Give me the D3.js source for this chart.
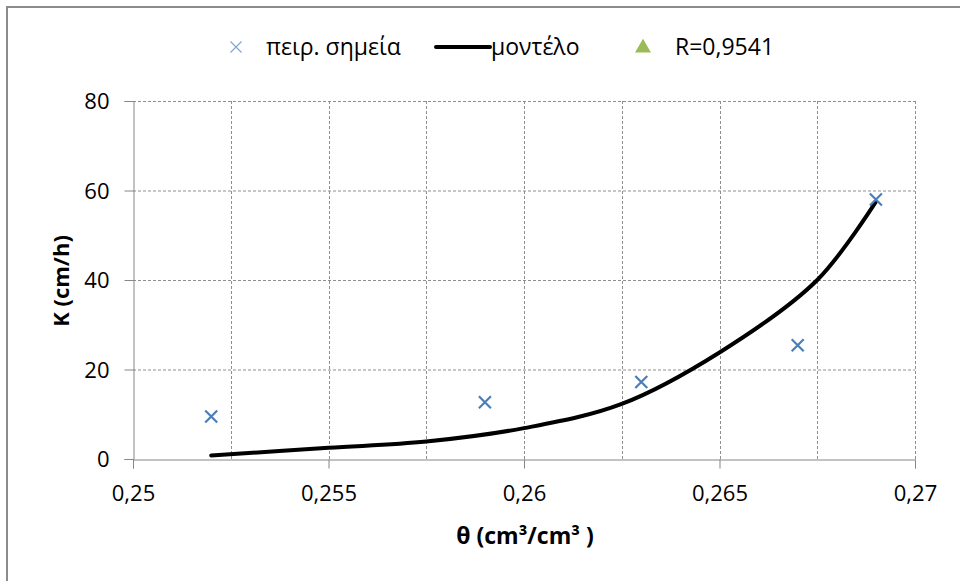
<!DOCTYPE html>
<html>
<head>
<meta charset="utf-8">
<script src="https://cdn.jsdelivr.net/npm/d3@7"></script>
<style>
  html, body { margin: 0; padding: 0; background: #fff; }
  svg { display: block; }
  text { font-family: "Open Sans", "Noto Sans", sans-serif; fill: #000; }
</style>
</head>
<body>
<script>
// ---- data ----
const thetaObs = [0.252, 0.259, 0.263, 0.267, 0.269];
const kObs = [9.5, 12.7, 17.2, 25.4, 58.0];
const thetaModel = [0.252, 0.255, 0.2575, 0.26, 0.2625, 0.265, 0.2675, 0.269];
const kModel = [0.8, 2.5, 3.9, 6.9, 12.3, 23.8, 40.0, 57.5];
const xTicks = [0.25, 0.255, 0.26, 0.265, 0.27];
const xGrid = [0.2525, 0.255, 0.2575, 0.26, 0.2625, 0.265, 0.2675, 0.27];
const yTicks = [0, 20, 40, 60, 80];
const legendLabels = ["πειρ. σημεία", "μοντέλο", "R=0,9541"];
const xTitle = "θ (cm³/cm³ )";
const yTitle = "K (cm/h)";

const W = 960, H = 581;
const plot = {left: 133, right: 915, top: 101, bottom: 459};

const svg = d3.select("body").append("svg").attr("width", W).attr("height", H);

// outer border (only top/left visible)
svg.append("rect").attr("x", 7).attr("y", 7).attr("width", 1000).attr("height", 700)
  .attr("fill", "none").attr("stroke", "#8c8c8c").attr("stroke-width", 2);

const x = d3.scaleLinear().domain([0.25, 0.27]).range([plot.left, plot.right]);
const y = d3.scaleLinear().domain([0, 80]).range([plot.bottom, plot.top]);

const fmt = d => String(d).replace(".", ",");

// gridlines
svg.append("g").selectAll("line").data(yTicks.filter(d => d > 0)).join("line")
  .attr("x1", plot.left).attr("x2", plot.right)
  .attr("y1", d => y(d) + 0.5).attr("y2", d => y(d) + 0.5)
  .attr("stroke", "#8f8f8f").attr("stroke-width", 1).attr("stroke-dasharray", "3,2");
svg.append("g").selectAll("line").data(xGrid).join("line")
  .attr("x1", d => Math.round(x(d)) + 0.5).attr("x2", d => Math.round(x(d)) + 0.5)
  .attr("y1", plot.top).attr("y2", plot.bottom)
  .attr("stroke", "#8f8f8f").attr("stroke-width", 1).attr("stroke-dasharray", "3,2");

// axes
const xAxis = svg.append("g").attr("transform", `translate(0,${plot.bottom + 0.5})`)
  .call(d3.axisBottom(x).tickValues(xTicks).tickFormat(fmt).tickSize(9).tickPadding(17));
const yAxis = svg.append("g").attr("transform", `translate(${plot.left + 0.5},0)`)
  .call(d3.axisLeft(y).tickValues(yTicks).tickFormat(fmt).tickSize(9).tickPadding(15));
[xAxis, yAxis].forEach(g => {
  g.select(".domain").attr("stroke", "#868686");
  g.selectAll(".tick line").attr("stroke", "#868686");
  g.selectAll(".tick text").attr("font-size", 22).attr("font-family", "Open Sans").attr("fill", "#000");
});
yAxis.selectAll(".tick text").attr("dy", "0.35em");

// model curve
const line = d3.line().x((d, i) => x(thetaModel[i])).y(d => y(d)).curve(d3.curveCatmullRom.alpha(0.5));
svg.append("path").attr("d", line(kModel)).attr("fill", "none")
  .attr("stroke", "#000").attr("stroke-width", 4).attr("stroke-linecap", "round");

// observed points
const cross = (g, cx, cy, s, color, w) => {
  g.append("path").attr("d", `M${cx - s},${cy - s}L${cx + s},${cy + s}M${cx - s},${cy + s}L${cx + s},${cy - s}`)
    .attr("stroke", color).attr("stroke-width", w).attr("fill", "none");
};
const pts = svg.append("g");
kObs.forEach((k, i) => cross(pts, x(thetaObs[i]), y(k), 6, "#4a7ebb", 2.2));

// axis titles
svg.append("text").attr("x", 525).attr("y", 544).attr("text-anchor", "middle")
  .attr("font-size", 23).attr("font-weight", "bold").text(xTitle);
svg.append("text").attr("transform", "translate(69,281) rotate(-90)").attr("text-anchor", "middle")
  .attr("font-size", 22).attr("font-weight", "bold").text(yTitle);

// legend
const lg = svg.append("g");
cross(lg, 236, 47, 5.5, "#7fa7d8", 1.2);
lg.append("text").attr("x", 266).attr("y", 55).attr("font-size", 23).text(legendLabels[0]);
lg.append("line").attr("x1", 436).attr("x2", 490).attr("y1", 47).attr("y2", 47)
  .attr("stroke", "#000").attr("stroke-width", 4).attr("stroke-linecap", "round");
lg.append("text").attr("x", 491).attr("y", 55).attr("font-size", 23).text(legendLabels[1]);
lg.append("path").attr("d", d3.symbol().type(d3.symbolTriangle).size(110)()).attr("transform", "translate(643,48)")
  .attr("fill", "#9bbb59");
lg.append("text").attr("x", 675).attr("y", 55).attr("font-size", 23).text(legendLabels[2]);
</script>
</body>
</html>
